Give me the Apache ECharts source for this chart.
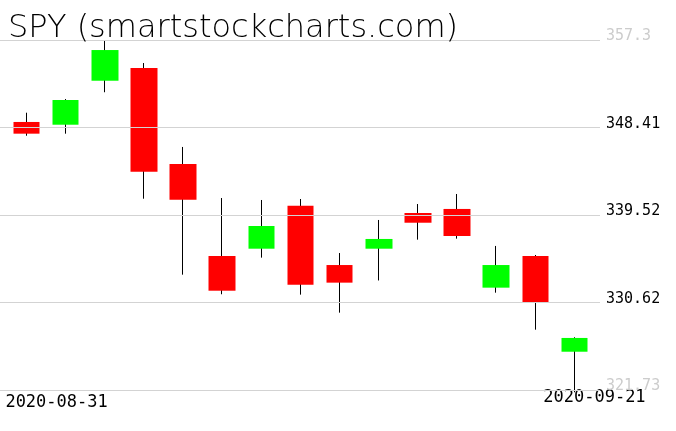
<!DOCTYPE html>
<html>
<head>
<meta charset="utf-8">
<script src="https://cdn.jsdelivr.net/npm/echarts@6/dist/echarts.min.js"></script>
<style>
  html, body { margin: 0; padding: 0; background: #fff; }
  #chart { width: 676px; height: 431px; }
</style>
</head>
<body>
<div id="chart"></div>
<script>
// daily SPY candles
const dates = ['2020-08-31', '2020-09-01', '2020-09-02', '2020-09-03', '2020-09-04',
  '2020-09-08', '2020-09-09', '2020-09-10', '2020-09-11', '2020-09-14',
  '2020-09-15', '2020-09-16', '2020-09-17', '2020-09-18', '2020-09-21'];
const opens  = [348.97, 348.69, 353.16, 354.45, 344.70, 335.35, 336.09, 340.46, 334.43, 336.09, 339.72, 340.13, 332.13, 335.35, 325.62];
const closes = [347.78, 351.20, 356.28, 343.92, 341.07, 331.82, 338.40, 332.43, 332.64, 337.08, 338.73, 337.38, 334.43, 330.67, 327.02];
const lows   = [347.57, 347.78, 351.99, 341.17, 333.45, 331.46, 335.18, 331.42, 329.59, 332.86, 337.01, 337.11, 331.62, 327.86, 321.50];
const highs  = [349.91, 351.30, 357.20, 354.96, 346.43, 341.24, 341.04, 341.14, 335.65, 339.01, 340.63, 341.65, 336.37, 335.45, 327.09];
const yTicks = [321.73, 330.62, 339.52, 348.41, 357.3];
const yTickLabels = ['321.73', '330.62', '339.52', '348.41', '357.3'];

const yMin = yTicks[0];
const yMax = yTicks[yTicks.length - 1];

const chart = echarts.init(document.getElementById('chart'));

// wicks: full candle, 1px wide
const wickData = dates.map((d, i) => [opens[i], closes[i], lows[i], highs[i]]);
// bodies only (no wick part)
const bodyData = dates.map((d, i) => [opens[i], closes[i], Math.min(opens[i], closes[i]), Math.max(opens[i], closes[i])]);

const isEdge = (v) => Math.abs(v - yMin) < 1e-6 || Math.abs(v - yMax) < 1e-6;

const option = {
  animation: false,
  title: {
    text: 'SPY (smartstockcharts.com)',
    left: 3,
    top: 8,
    textStyle: {
      fontFamily: 'DejaVu Sans',
      fontWeight: 200,
      fontSize: 32,
      color: '#000'
    }
  },
  grid: [
    { left: 0, right: 76, top: 40, bottom: 41 },   // gridlines + price labels
    { left: 7, right: 82, top: 40, bottom: 41 }    // candles
  ],
  xAxis: [
    {
      gridIndex: 0,
      type: 'category',
      data: dates,
      show: false
    },
    {
      gridIndex: 1,
      type: 'category',
      data: dates,
      axisLine: { show: false },
      axisTick: { show: false },
      splitLine: { show: false },
      axisLabel: {
        interval: (i) => i === 0 || i === dates.length - 1,
        margin: 10,
        verticalAlign: 'middle',
        fontFamily: 'DejaVu Sans Mono',
        fontSize: 17,
        color: '#000',
        formatter: (v, i) => (i === 0 ? '{a|' + v + '}' : '{b|' + v + '}'),
        rich: {
          a: { padding: [5, 0, 0, 60], fontFamily: 'DejaVu Sans Mono', fontSize: 17 },
          b: { padding: [0, 0, 5, 40], fontFamily: 'DejaVu Sans Mono', fontSize: 17 }
        }
      }
    }
  ],
  yAxis: [
    {
      gridIndex: 0,
      type: 'value',
      position: 'right',
      min: yMin,
      max: yMax,
      z: 3,
      axisLine: { show: false },
      axisTick: { show: false, customValues: yTicks },
      splitLine: { show: true, lineStyle: { color: '#d3d3d3', width: 1 } },
      axisLabel: {
        customValues: yTicks,
        margin: 6,
        verticalAlign: 'middle',
        formatter: (v) => {
          const k = yTicks.findIndex((t) => Math.abs(t - v) < 1e-6);
          if (k < 0) return '';
          return (isEdge(v) ? '{e|' : '{m|') + yTickLabels[k] + '}';
        },
        rich: {
          m: { padding: [0, 0, 7, 0], fontFamily: 'DejaVu Sans Mono', fontSize: 15, color: '#000' },
          e: { padding: [0, 0, 7, 0], fontFamily: 'DejaVu Sans Mono', fontSize: 15, color: '#cccccc' }
        }
      }
    },
    {
      gridIndex: 1,
      type: 'value',
      min: yMin,
      max: yMax,
      show: false,
      splitLine: { show: false }
    }
  ],
  series: [
    {
      name: 'wick',
      type: 'candlestick',
      xAxisIndex: 1,
      yAxisIndex: 1,
      barWidth: 1,
      z: 1,
      data: wickData,
      itemStyle: {
        color: '#000', color0: '#000',
        borderColor: '#000', borderColor0: '#000',
        borderWidth: 1
      }
    },
    {
      name: 'body',
      type: 'candlestick',
      xAxisIndex: 1,
      yAxisIndex: 1,
      barWidth: 27,
      z: 2,
      data: bodyData,
      itemStyle: {
        color: '#00ff00', color0: '#ff0000',
        borderColor: '#00ff00', borderColor0: '#ff0000',
        borderWidth: 0
      }
    }
  ]
};

chart.setOption(option);
</script>
</body>
</html>
